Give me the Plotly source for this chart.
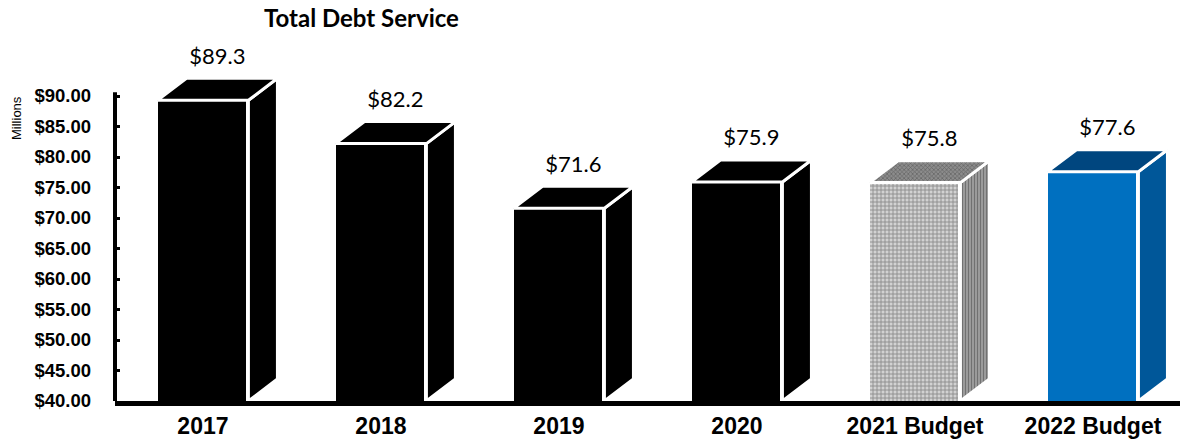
import plotly.graph_objects as go

# Total debt service by year, in millions of dollars
categories = ["2017", "2018", "2019", "2020", "2021 Budget", "2022 Budget"]
debt_service = [89.3, 82.2, 71.6, 75.9, 75.8, 77.6]
y_ticks = [40, 45, 50, 55, 60, 65, 70, 75, 80, 85, 90]
y_tick_labels = [f"${t:.2f}" for t in y_ticks]

# face colours: front / top / side
front_colors = ["#000000"] * 4 + ["#d2d2d2", "#0070c0"]
top_colors = ["#000000"] * 4 + ["#707070", "#00467f"]
side_colors = ["#000000"] * 4 + ["#8f8f8f", "#005799"]
patterned = [False] * 4 + [True, False]

BAR_W = 0.511      # front face width, axis units
DEPTH_X = 0.163    # 3D depth offset along x, axis units
DEPTH_Y = 3.6      # 3D depth offset along y, value units
Y_MIN = 40

x_pos = list(range(len(categories)))

fig = go.Figure()

# front faces
fig.add_trace(go.Bar(
    x=x_pos, y=debt_service, width=BAR_W,
    marker=dict(
        color=front_colors,
        line=dict(color="white", width=3),
        pattern=dict(
            shape=["+" if p else "" for p in patterned],
            fgcolor="#858585", bgcolor="#d4d4d4",
            size=4, solidity=0.4, fillmode="overlay",
        ),
    ),
    showlegend=False, hoverinfo="skip",
))

# side and top faces as filled polygons
for i, v in enumerate(debt_service):
    xr = x_pos[i] + BAR_W / 2
    xl = x_pos[i] - BAR_W / 2
    side_x = [xr, xr + DEPTH_X, xr + DEPTH_X, xr, xr]
    side_y = [Y_MIN, Y_MIN + DEPTH_Y, v + DEPTH_Y, v, Y_MIN]
    top_x = [xl, xl + DEPTH_X, xr + DEPTH_X, xr, xl]
    top_y = [v, v + DEPTH_Y, v + DEPTH_Y, v, v]
    side_kw = dict(fillcolor=side_colors[i])
    top_kw = dict(fillcolor=top_colors[i])
    if patterned[i]:
        side_kw["fillpattern"] = dict(shape="|", fgcolor="#3a3a3a", bgcolor="#a8a8a8",
                                      size=3, solidity=0.5)
        top_kw["fillpattern"] = dict(shape="x", fgcolor="#3a3a3a", bgcolor="#8c8c8c",
                                     size=3, solidity=0.4)
    fig.add_trace(go.Scatter(
        x=side_x, y=side_y, mode="lines", fill="toself",
        line=dict(color="white", width=3), showlegend=False, hoverinfo="skip",
        **side_kw,
    ))
    fig.add_trace(go.Scatter(
        x=top_x, y=top_y, mode="lines", fill="toself",
        line=dict(color="white", width=3), showlegend=False, hoverinfo="skip",
        **top_kw,
    ))

# value labels above each box
fig.add_trace(go.Scatter(
    x=[x + DEPTH_X / 2 for x in x_pos],
    y=[v + DEPTH_Y + 3.3 for v in debt_service],
    mode="text",
    text=[f"${v:.1f}" for v in debt_service],
    textposition="middle center",
    textfont=dict(family="Lato", size=22, color="#000000"),
    cliponaxis=False, showlegend=False, hoverinfo="skip",
))

fig.update_layout(
    width=1180, height=441,
    margin=dict(l=115, r=0, t=0, b=40),
    paper_bgcolor="white", plot_bgcolor="white",
    bargap=0,
    xaxis=dict(
        range=[-0.494, 5.489],
        tickvals=x_pos, ticktext=categories,
        tickfont=dict(family="Liberation Sans", size=23, color="#000000", weight="bold"),
        showline=True, linecolor="#000000", linewidth=5,
        showgrid=False, zeroline=False, ticks="",
    ),
    yaxis=dict(
        range=[Y_MIN, Y_MIN + 401 / 6.1],
        tickvals=y_ticks, ticktext=y_tick_labels,
        tickfont=dict(family="Liberation Sans", size=18.5, color="#000000", weight="bold"),
        showline=False, showgrid=False, zeroline=False,
        ticks="inside", ticklen=5, tickwidth=3, tickcolor="#000000",
        ticklabelstandoff=23,
    ),
    shapes=[dict(
        type="line", xref="paper", yref="y",
        x0=0, x1=0, y0=Y_MIN, y1=90.6,
        line=dict(color="#000000", width=4),
    )],
    annotations=[
        dict(text="<b>Total Debt Service</b>", xref="paper", yref="paper",
             x=(361 - 115) / 1065, y=(401 - 18) / 401,
             xanchor="center", yanchor="middle", showarrow=False,
             font=dict(family="Lato", size=24, color="#000000")),
        dict(text="Millions", xref="paper", yref="paper",
             x=(16 - 115) / 1065, y=(401 - 118) / 401, textangle=-90,
             xanchor="center", yanchor="middle", showarrow=False,
             font=dict(family="Liberation Sans", size=13, color="#000000")),
    ],
)

fig.write_html("out.html")
